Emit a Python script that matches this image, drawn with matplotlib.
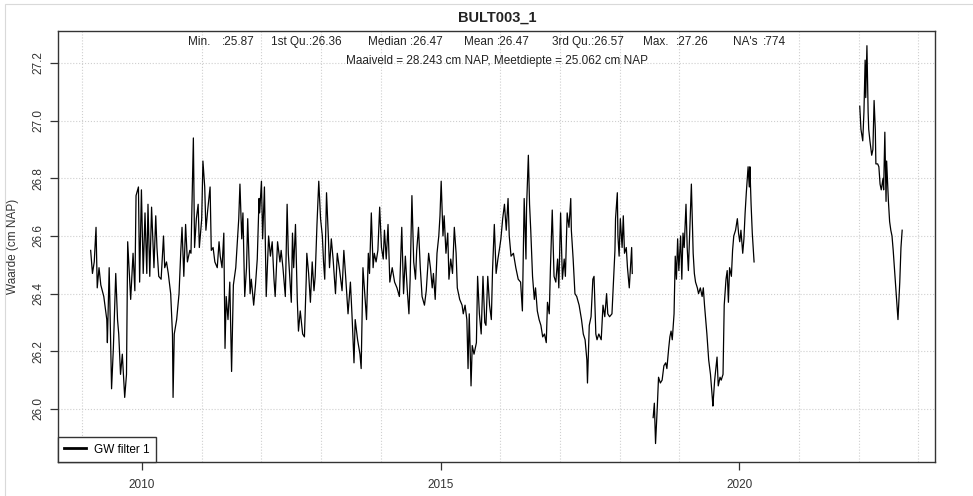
import matplotlib
matplotlib.use("Agg")
import matplotlib.pyplot as plt
from matplotlib.patches import Rectangle
from matplotlib.ticker import FixedLocator, FormatStrFormatter

plt.rcParams['font.family'] = ['Liberation Sans', 'DejaVu Sans']

title = "BULT003_1"
ylabel = "Waarde (cm NAP)"
legend_label = "GW filter 1"
stat_names = ["Min.", "1st Qu.", "Median", "Mean", "3rd Qu.", "Max.", "NA's"]
stat_values = [":25.87", ":26.36", ":26.47", ":26.47", ":26.57", ":27.26", ":774"]
subtitle = "Maaiveld = 28.243 cm NAP, Meetdiepte = 25.062 cm NAP"

# decimal years / groundwater level (cm NAP), three measured periods
t1 = [2009.14, 2009.17, 2009.20, 2009.23, 2009.25, 2009.28, 2009.31, 2009.36, 2009.41, 2009.42,
      2009.45, 2009.49, 2009.52, 2009.56, 2009.59, 2009.61, 2009.64, 2009.67, 2009.71, 2009.74,
      2009.76, 2009.81, 2009.85, 2009.88, 2009.90, 2009.94, 2009.96, 2009.99, 2010.02, 2010.05,
      2010.08, 2010.10, 2010.13, 2010.16, 2010.20, 2010.23, 2010.25, 2010.28, 2010.32, 2010.36,
      2010.38, 2010.41, 2010.44, 2010.48, 2010.51, 2010.52, 2010.54, 2010.58, 2010.62, 2010.65,
      2010.67, 2010.70, 2010.73, 2010.76, 2010.80, 2010.82, 2010.86, 2010.88, 2010.91, 2010.94,
      2010.96, 2011.00, 2011.02, 2011.05, 2011.07, 2011.10, 2011.14, 2011.16, 2011.19, 2011.22,
      2011.26, 2011.29, 2011.31, 2011.34, 2011.37, 2011.39, 2011.41, 2011.44, 2011.47, 2011.50,
      2011.53, 2011.57, 2011.59, 2011.62, 2011.64, 2011.67, 2011.69, 2011.72, 2011.75, 2011.77,
      2011.81, 2011.83, 2011.87, 2011.90, 2011.93, 2011.96, 2011.97, 2012.00, 2012.02, 2012.05,
      2012.08, 2012.12, 2012.15, 2012.18, 2012.21, 2012.23, 2012.27, 2012.31, 2012.33, 2012.36,
      2012.40, 2012.43, 2012.45, 2012.47, 2012.50, 2012.52, 2012.54, 2012.57, 2012.60, 2012.62,
      2012.65, 2012.69, 2012.72, 2012.75, 2012.76, 2012.79, 2012.82, 2012.85, 2012.88, 2012.90,
      2012.93,
      2012.96, 2012.99, 2013.02, 2013.04, 2013.06, 2013.09, 2013.12, 2013.14, 2013.17, 2013.20,
      2013.24, 2013.27, 2013.31, 2013.35, 2013.38, 2013.41, 2013.45, 2013.49, 2013.52, 2013.55,
      2013.57, 2013.61, 2013.65, 2013.67, 2013.70, 2013.73, 2013.76, 2013.79, 2013.81, 2013.84,
      2013.87, 2013.89, 2013.92, 2013.95, 2013.98, 2014.01, 2014.04, 2014.06, 2014.09, 2014.12,
      2014.15, 2014.19, 2014.23, 2014.27, 2014.31, 2014.35, 2014.38, 2014.41, 2014.44, 2014.47,
      2014.49, 2014.52, 2014.55, 2014.58, 2014.60, 2014.63, 2014.66, 2014.69, 2014.73, 2014.76,
      2014.80, 2014.83, 2014.86, 2014.88, 2014.91, 2014.94, 2014.97, 2014.99, 2015.01, 2015.04,
      2015.06, 2015.09, 2015.12, 2015.14, 2015.17, 2015.20, 2015.23, 2015.26, 2015.28, 2015.32,
      2015.36, 2015.38, 2015.41, 2015.44, 2015.46, 2015.48, 2015.51, 2015.53, 2015.56, 2015.60,
      2015.62, 2015.65, 2015.68, 2015.71, 2015.74, 2015.76, 2015.79, 2015.82, 2015.85, 2015.87,
      2015.90, 2015.93, 2015.96, 2015.99, 2016.01, 2016.04, 2016.07, 2016.10, 2016.13, 2016.15,
      2016.18, 2016.22, 2016.26, 2016.30, 2016.34, 2016.37, 2016.40, 2016.43, 2016.44, 2016.47,
      2016.49, 2016.51, 2016.54, 2016.57, 2016.59, 2016.62, 2016.65, 2016.68, 2016.71, 2016.74,
      2016.77, 2016.79, 2016.82, 2016.84, 2016.87, 2016.90, 2016.93, 2016.96, 2016.98, 2017.01,
      2017.04, 2017.07, 2017.09, 2017.12, 2017.15, 2017.18, 2017.19, 2017.22, 2017.25, 2017.28,
      2017.32, 2017.36, 2017.39, 2017.42, 2017.45, 2017.46, 2017.49, 2017.52, 2017.55, 2017.57,
      2017.60, 2017.62, 2017.65,
      2017.69, 2017.72, 2017.75, 2017.78, 2017.80, 2017.83, 2017.87, 2017.90, 2017.92, 2017.93,
      2017.96, 2017.97, 2017.99, 2018.01, 2018.04, 2018.06, 2018.08, 2018.11, 2018.13, 2018.16,
      2018.18, 2018.20, 2018.21]
h1 = [26.55, 26.47, 26.51, 26.63, 26.42, 26.49, 26.43, 26.39, 26.31, 26.23,
      26.49, 26.07, 26.21, 26.47, 26.31, 26.26, 26.12, 26.19, 26.04, 26.12,
      26.58, 26.38, 26.54, 26.41, 26.74, 26.77, 26.44, 26.76, 26.47, 26.68,
      26.47, 26.71, 26.46, 26.70, 26.49, 26.67, 26.56, 26.46, 26.45, 26.60,
      26.49, 26.51, 26.47, 26.40, 26.26, 26.04, 26.26, 26.31, 26.40, 26.55,
      26.63, 26.46, 26.64, 26.51, 26.55, 26.54, 26.94, 26.56, 26.66, 26.71,
      26.56, 26.66, 26.86, 26.77, 26.62, 26.69, 26.77, 26.55, 26.56, 26.51,
      26.49, 26.58, 26.53, 26.49, 26.61, 26.21, 26.39, 26.31, 26.44, 26.13,
      26.43, 26.49, 26.56, 26.66, 26.78, 26.59, 26.68, 26.39, 26.49, 26.66,
      26.40, 26.45, 26.36, 26.43, 26.52, 26.73, 26.68, 26.79, 26.59, 26.77,
      26.39, 26.60, 26.53, 26.58, 26.45, 26.39, 26.58, 26.51, 26.55, 26.49,
      26.39, 26.71, 26.54, 26.47, 26.37, 26.61, 26.49, 26.64, 26.38, 26.27,
      26.34, 26.26, 26.25, 26.45, 26.54, 26.47, 26.37, 26.51, 26.41, 26.46,
      26.64,
      26.79, 26.66, 26.60, 26.51, 26.45, 26.75, 26.60, 26.49, 26.59, 26.52,
      26.40, 26.54, 26.48, 26.41, 26.55, 26.46, 26.33, 26.44, 26.31, 26.16,
      26.31, 26.24, 26.19, 26.14, 26.49, 26.40, 26.31, 26.54, 26.47, 26.68,
      26.49, 26.54, 26.51, 26.55, 26.70, 26.56, 26.52, 26.62, 26.52, 26.64,
      26.44, 26.49, 26.44, 26.42, 26.39, 26.63, 26.40, 26.53, 26.42, 26.33,
      26.45, 26.74, 26.51, 26.45, 26.55, 26.63, 26.49, 26.39, 26.36, 26.41,
      26.54, 26.49, 26.42, 26.47, 26.38, 26.54, 26.60, 26.67, 26.79, 26.60,
      26.67, 26.54, 26.61, 26.45, 26.52, 26.47, 26.63, 26.54, 26.42, 26.38,
      26.36, 26.33, 26.36, 26.31, 26.14, 26.33, 26.08, 26.22, 26.19, 26.23,
      26.46, 26.33, 26.26, 26.46, 26.30, 26.29, 26.46, 26.36, 26.31, 26.48,
      26.64, 26.47, 26.52, 26.56, 26.59, 26.66, 26.71, 26.62, 26.73, 26.60,
      26.53, 26.54, 26.49, 26.45, 26.44, 26.34, 26.73, 26.52, 26.70, 26.88,
      26.71, 26.62, 26.46, 26.38, 26.42, 26.34, 26.31, 26.29, 26.25, 26.26,
      26.23, 26.37, 26.33, 26.49, 26.69, 26.46, 26.44, 26.52, 26.42, 26.68,
      26.45, 26.52, 26.46, 26.68, 26.63, 26.73, 26.62, 26.52, 26.40, 26.39,
      26.36, 26.31, 26.26, 26.24, 26.17, 26.09, 26.29, 26.32, 26.45, 26.46,
      26.26, 26.24, 26.26,
      26.24, 26.36, 26.32, 26.40, 26.33, 26.32, 26.33, 26.46, 26.55, 26.66,
      26.75, 26.60, 26.53, 26.66, 26.56, 26.67, 26.54, 26.56, 26.49, 26.42,
      26.49, 26.56, 26.47]

t2 = [2018.56, 2018.58, 2018.60, 2018.63, 2018.65, 2018.68, 2018.71, 2018.74, 2018.77, 2018.79,
      2018.82, 2018.84, 2018.86, 2018.88, 2018.91, 2018.93, 2018.95, 2018.97, 2018.99, 2019.02,
      2019.04, 2019.06, 2019.08, 2019.11, 2019.13, 2019.15, 2019.17, 2019.20, 2019.23, 2019.25,
      2019.27, 2019.30, 2019.32, 2019.35, 2019.38, 2019.40, 2019.42, 2019.44, 2019.46, 2019.49,
      2019.52, 2019.55, 2019.56, 2019.59, 2019.60, 2019.63, 2019.65, 2019.68, 2019.70, 2019.73,
      2019.75, 2019.78, 2019.80, 2019.82, 2019.84, 2019.87, 2019.89, 2019.91, 2019.94, 2019.97,
      2019.99, 2020.01, 2020.03, 2020.06, 2020.08, 2020.10, 2020.12, 2020.15, 2020.17, 2020.18,
      2020.20, 2020.22, 2020.25]
h2 = [25.97, 26.02, 25.88, 26.01, 26.11, 26.09, 26.10, 26.15, 26.16, 26.14,
      26.21, 26.25, 26.27, 26.24, 26.33, 26.53, 26.45, 26.59, 26.48, 26.60,
      26.45, 26.61, 26.56, 26.71, 26.56, 26.48, 26.60, 26.78, 26.54, 26.47,
      26.44, 26.42, 26.40, 26.42, 26.39, 26.42, 26.36, 26.31, 26.26, 26.17,
      26.12, 26.04, 26.01, 26.10, 26.12, 26.18, 26.08, 26.11, 26.10, 26.12,
      26.36, 26.45, 26.48, 26.37, 26.49, 26.46, 26.55, 26.60, 26.62, 26.66,
      26.61, 26.58, 26.62, 26.54, 26.59, 26.68, 26.75, 26.84, 26.77, 26.84,
      26.71, 26.61, 26.51]

t3 = [2022.02, 2022.04, 2022.07, 2022.09, 2022.11, 2022.12, 2022.14, 2022.16, 2022.17, 2022.19,
      2022.22, 2022.24, 2022.26, 2022.28, 2022.29, 2022.32, 2022.34, 2022.36, 2022.38, 2022.41,
      2022.42, 2022.44, 2022.46, 2022.47, 2022.50, 2022.52, 2022.54, 2022.56, 2022.58, 2022.61,
      2022.64, 2022.66, 2022.69, 2022.71, 2022.73]
h3 = [27.05, 26.97, 26.93, 27.03, 27.21, 27.08, 27.26, 27.03, 26.97, 26.93,
      26.88, 26.90, 27.07, 26.97, 26.85, 26.85, 26.84, 26.78, 26.76, 26.80,
      26.76, 26.96, 26.72, 26.86, 26.72, 26.65, 26.62, 26.60, 26.55, 26.46,
      26.37, 26.31, 26.44, 26.56, 26.62]

x_ticks = [2010, 2015, 2020]
x_grid = list(range(2009, 2024))
y_ticks = [26.0, 26.2, 26.4, 26.6, 26.8, 27.0, 27.2]

W, H = 973, 496
fig = plt.figure(figsize=(W / 100, H / 100), dpi=100)
ax = fig.add_axes([58 / W, 1 - 462 / H, (935 - 58) / W, (462 - 31) / H])

# light frame around the whole picture
fig.patches.append(Rectangle((5 / W, -0.1), 1.2, 1 - 4 / H + 0.1, transform=fig.transFigure,
                             fill=False, edgecolor='#d9d9d9', lw=0.8))

line, = ax.plot(t1, h1, color='black', lw=0.9)
ax.plot(t2, h2, color='black', lw=0.9)
ax.plot(t3, h3, color='black', lw=0.9)

ax.set_xlim(2008.593, 2023.28)
ax.set_ylim(25.816, 27.311)

ax.xaxis.set_major_locator(FixedLocator(x_ticks))
ax.xaxis.set_minor_locator(FixedLocator(x_grid))
ax.yaxis.set_major_locator(FixedLocator(y_ticks))
ax.yaxis.set_major_formatter(FormatStrFormatter('%.1f'))
ax.grid(which='minor', axis='x', color='#cfcfcf', ls=':', lw=0.8)
ax.grid(which='major', axis='y', color='#cfcfcf', ls=':', lw=0.8)
ax.tick_params(axis='x', which='minor', length=0)
ax.tick_params(axis='both', which='major', length=6, width=0.9, color='#333333',
               labelsize=8.5, labelcolor='#333333')
ax.tick_params(axis='x', which='major', pad=6)
ax.tick_params(axis='y', which='major', pad=4)
for lab in ax.get_yticklabels():
    lab.set_rotation(90)
    lab.set_va('center')
for s in ax.spines.values():
    s.set_color('#333333')
    s.set_linewidth(1.0)

fig.text(13 / W, 1 - 246 / H, ylabel, rotation=90, ha='center', va='center',
         fontsize=8.5, color='#333333')

leg = ax.legend([line], [legend_label], loc='lower left', bbox_to_anchor=(0, 0),
                borderaxespad=0, fancybox=False, framealpha=1, edgecolor='#333333',
                fontsize=8.5, handlelength=1.8, handletextpad=0.7, borderpad=0.55)
leg.get_frame().set_linewidth(1.0)
leg.legend_handles[0].set_linewidth(2)

fig.text(497 / W, 1 - 18 / H, title, ha='center', va='center', fontsize=10.5,
         fontweight='bold', color='#222222')

# R summary() style: label column and value column
name_x = [188, 271, 368, 464, 552, 643, 733]
val_x = [222, 311, 406, 497, 601, 676, 763]
for nm, vl, xn, xv in zip(stat_names, stat_values, name_x, val_x):
    if nm in ("1st Qu.", "3rd Qu.", "Median"):
        fig.text(xn / W, 1 - 42 / H, nm + ("" if "Qu" in nm else " ") + vl, ha='left',
                 va='center', fontsize=8.5, color='#222222')
    else:
        fig.text(xn / W, 1 - 42 / H, nm, ha='left', va='center', fontsize=8.5, color='#222222')
        fig.text(xv / W, 1 - 42 / H, vl, ha='left', va='center', fontsize=8.5, color='#222222')

fig.text(497 / W, 1 - 61 / H, subtitle, ha='center', va='center', fontsize=8.5, color='#222222')

fig.savefig('out.png', dpi=100)
